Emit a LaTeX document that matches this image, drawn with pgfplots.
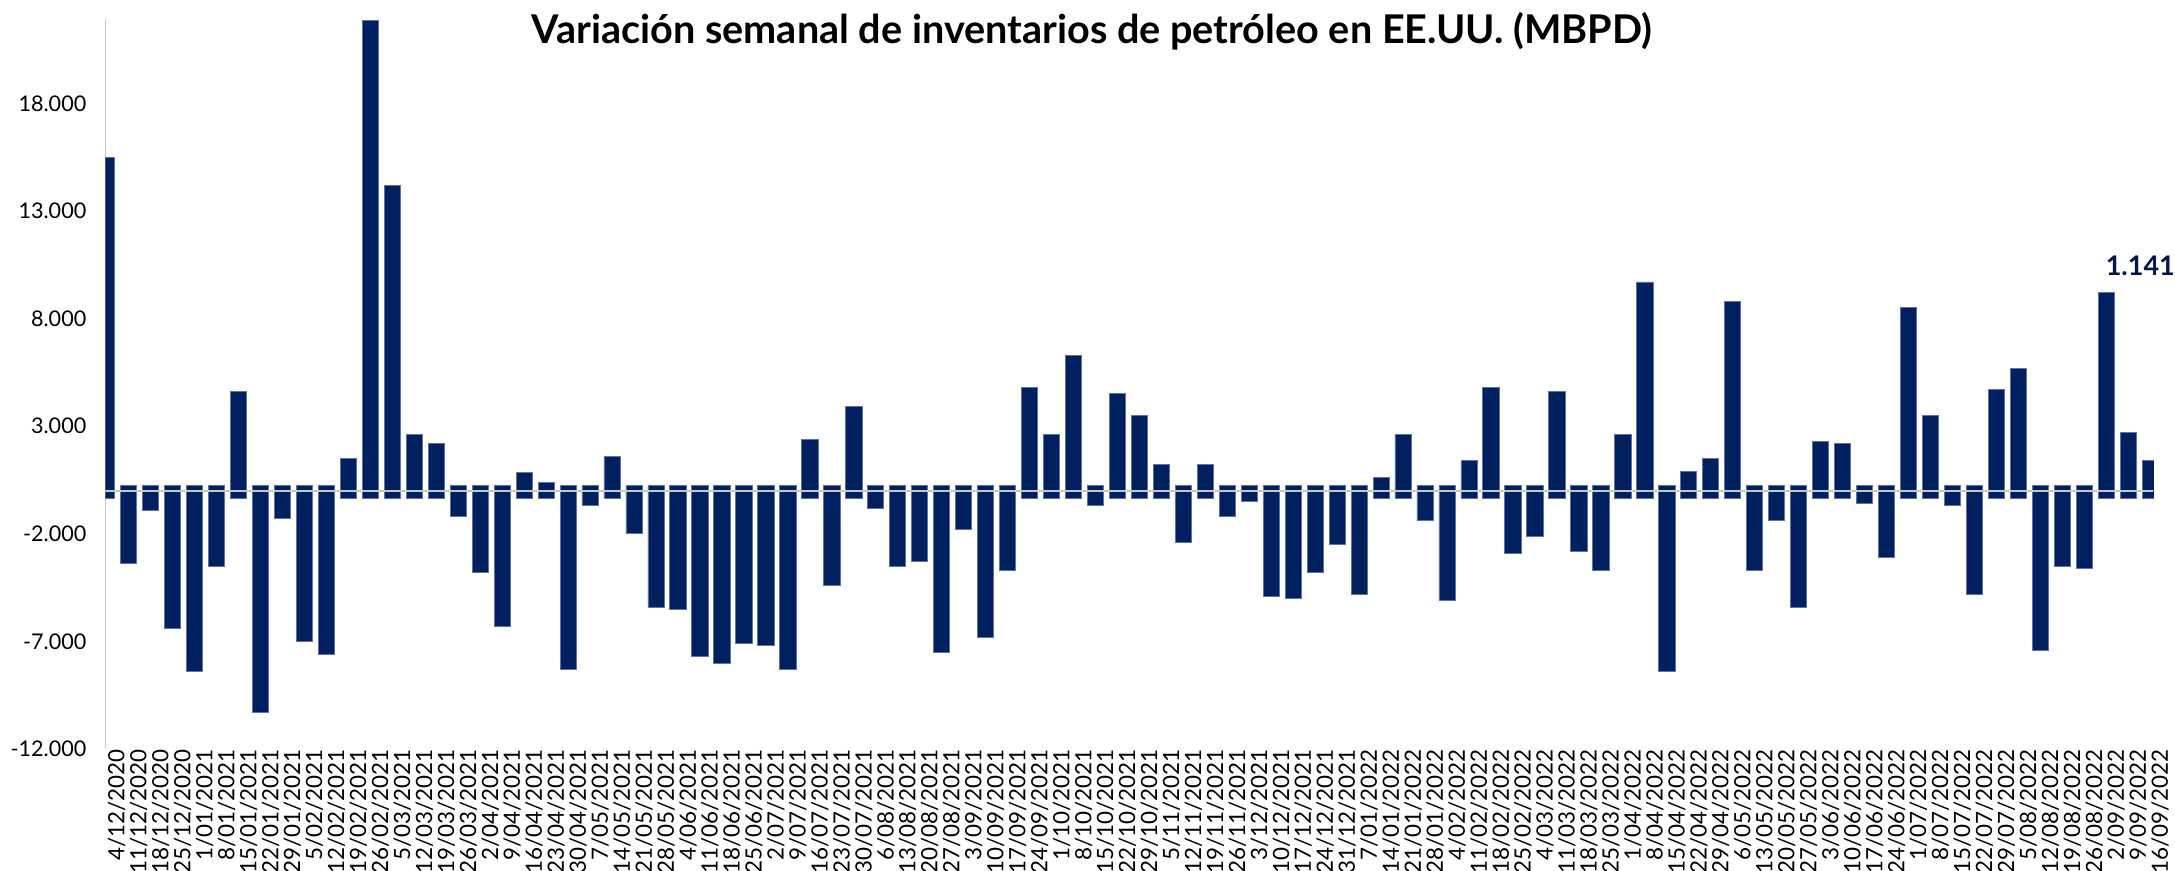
\documentclass[border=0pt]{standalone}
\usepackage{pgfplots}
\usepackage{pgfplotstable}
\pgfplotsset{compat=1.18}
\usepackage{fontspec}
\setmainfont{Lato}
\definecolor{navy}{RGB}{0,32,96}
\definecolor{edge}{RGB}{95,115,160}
\pgfplotstableread{
x v b
0 15500 -340
1 -3400 250
2 -900 250
3 -6400 250
4 -8400 250
5 -3500 250
6 4600 -340
7 -10300 250
8 -1300 250
9 -7000 250
10 -7600 250
11 1500 -340
12 21850 -340
13 14200 -340
14 2600 -340
15 2200 -340
16 -1200 250
17 -3800 250
18 -6300 250
19 850 -340
20 400 -340
21 -8300 250
22 -700 250
23 1600 -340
24 -2000 250
25 -5400 250
26 -5500 250
27 -7700 250
28 -8000 250
29 -7100 250
30 -7200 250
31 -8300 250
32 2400 -340
33 -4400 250
34 3900 -340
35 -800 250
36 -3500 250
37 -3300 250
38 -7500 250
39 -1800 250
40 -6800 250
41 -3700 250
42 4800 -340
43 2600 -340
44 6300 -340
45 -700 250
46 4500 -340
47 3500 -340
48 1200 -340
49 -2400 250
50 1200 -340
51 -1200 250
52 -500 250
53 -4900 250
54 -5000 250
55 -3800 250
56 -2500 250
57 -4800 250
58 600 -340
59 2600 -340
60 -1400 250
61 -5100 250
62 1400 -340
63 4800 -340
64 -2900 250
65 -2100 250
66 4600 -340
67 -2800 250
68 -3700 250
69 2600 -340
70 9700 -340
71 -8400 250
72 900 -340
73 1500 -340
74 8800 -340
75 -3700 250
76 -1400 250
77 -5400 250
78 2300 -340
79 2200 -340
80 -600 250
81 -3100 250
82 8500 -340
83 3500 -340
84 -700 250
85 -4800 250
86 4700 -340
87 5700 -340
88 -7400 250
89 -3500 250
90 -3600 250
91 9200 -340
92 2700 -340
93 1400 -340
}\data

\begin{document}
\begin{tikzpicture}
\useasboundingbox (0,0) rectangle (1087.5pt,435.5pt);
\begin{axis}[
  at={(52.7pt,61pt)}, anchor=south west,
  scale only axis, width=1024.3pt, height=364.8pt,
  xmin=-0.06, xmax=93.17, ymin=-12000, ymax=21900,
  clip mode=individual,
  axis lines*=left,
  x axis line style={draw=none},
  y axis line style={draw=gray!45, line width=0.7pt},
  major tick length=0pt,
  ytick={-12000,-7000,-2000,3000,8000,13000,18000},
  yticklabels={-12.000,-7.000,-2.000,3.000,8.000,13.000,18.000},
  yticklabel style={font=\fontsize{10.8}{12}\selectfont, xshift=-6pt},
  xtick={0,...,93},
  xticklabels={4/12/2020,11/12/2020,18/12/2020,25/12/2020,1/01/2021,8/01/2021,15/01/2021,22/01/2021,29/01/2021,5/02/2021,12/02/2021,19/02/2021,26/02/2021,5/03/2021,12/03/2021,19/03/2021,26/03/2021,2/04/2021,9/04/2021,16/04/2021,23/04/2021,30/04/2021,7/05/2021,14/05/2021,21/05/2021,28/05/2021,4/06/2021,11/06/2021,18/06/2021,25/06/2021,2/07/2021,9/07/2021,16/07/2021,23/07/2021,30/07/2021,6/08/2021,13/08/2021,20/08/2021,27/08/2021,3/09/2021,10/09/2021,17/09/2021,24/09/2021,1/10/2021,8/10/2021,15/10/2021,22/10/2021,29/10/2021,5/11/2021,12/11/2021,19/11/2021,26/11/2021,3/12/2021,10/12/2021,17/12/2021,24/12/2021,31/12/2021,7/01/2022,14/01/2022,21/01/2022,28/01/2022,4/02/2022,11/02/2022,18/02/2022,25/02/2022,4/03/2022,11/03/2022,18/03/2022,25/03/2022,1/04/2022,8/04/2022,15/04/2022,22/04/2022,29/04/2022,6/05/2022,13/05/2022,20/05/2022,27/05/2022,3/06/2022,10/06/2022,17/06/2022,24/06/2022,1/07/2022,8/07/2022,15/07/2022,22/07/2022,29/07/2022,5/08/2022,12/08/2022,19/08/2022,26/08/2022,2/09/2022,9/09/2022,16/09/2022},
  xticklabel style={rotate=90, anchor=east, inner sep=0pt, yshift=-5pt, font=\fontsize{11.2}{12}\selectfont},
]
\addplot[ybar, bar width=0.74, bar shift=0pt, fill=navy, draw=edge, line width=0.4pt] table[x=x,y=b]{\data};
\addplot[ybar, bar width=0.74, bar shift=0pt, fill=navy, draw=edge, line width=0.4pt] table[x=x,y=v]{\data};
\addplot[sharp plot, no marks, draw=gray!45, line width=1.2pt] coordinates {(-0.06,0) (93.13,0)};
\node[font=\bfseries\fontsize{13.5}{14}\selectfont, text=navy!75!black] at (axis cs:92.55,10460) {1.141};
\end{axis}
\node[font=\bfseries\fontsize{19.8}{22}\selectfont] at (546pt,420pt) {Variación semanal de inventarios de petróleo en EE.UU. (MBPD)};
\end{tikzpicture}
\end{document}
